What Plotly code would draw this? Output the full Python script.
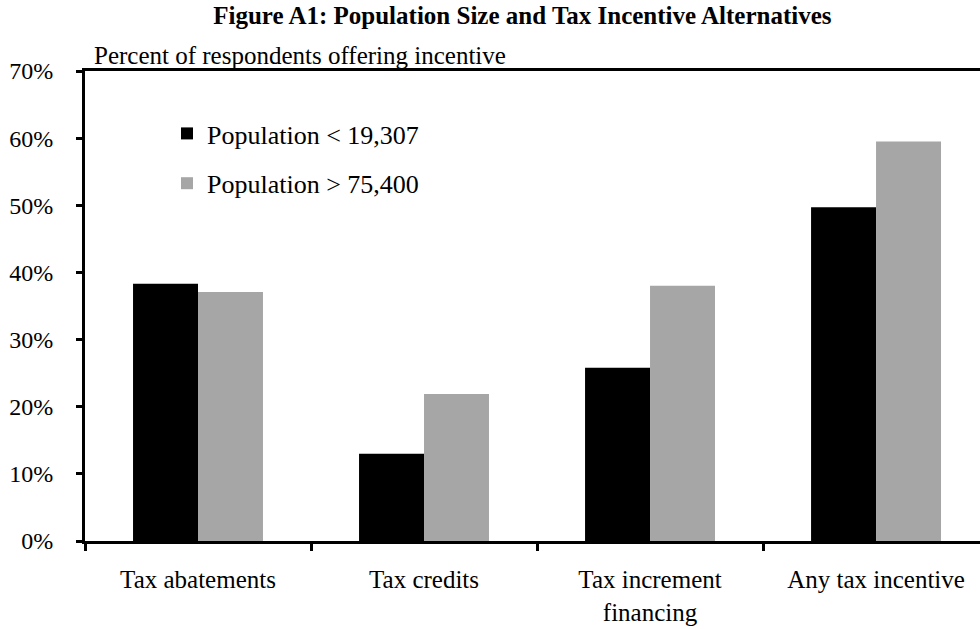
import plotly.graph_objects as go

categories = ["Tax abatements", "Tax credits", "Tax increment<br>financing", "Any tax incentive"]
small_pop = [38.3, 13.0, 25.8, 49.7]
large_pop = [37.1, 21.9, 38.0, 59.5]
series_names = ["Population < 19,307", "Population > 75,400"]
y_ticks = [0, 10, 20, 30, 40, 50, 60, 70]
y_tick_labels = [f"{v}%" for v in y_ticks]

FONT = "Liberation Serif"

fig = go.Figure()
fig.add_trace(go.Bar(x=categories, y=small_pop, name=series_names[0],
                     marker=dict(color="#000000", line=dict(width=0)),
                     legendgroup="a"))
fig.add_trace(go.Bar(x=categories, y=large_pop, name=series_names[1],
                     marker=dict(color="#A6A6A6", line=dict(width=0)),
                     legendgroup="b"))

fig.update_layout(
    width=980, height=629,
    margin=dict(l=85, r=0, t=71, b=88),
    paper_bgcolor="white", plot_bgcolor="white",
    barmode="group", bargap=0.425, bargroupgap=0,
    font=dict(family=FONT, size=24, color="black"),
    title=dict(text="<b>Figure A1: Population Size and Tax Incentive Alternatives</b>",
               x=0.533, xanchor="center", y=0.976, yanchor="middle",
               font=dict(family=FONT, size=25, color="black")),
    legend=dict(x=0.0916, y=0.917, xanchor="left", yanchor="top",
                bgcolor="rgba(0,0,0,0)", font=dict(size=26),
                traceorder="grouped", tracegroupgap=13),
    showlegend=True,
)

fig.update_xaxes(
    type="category", range=[-0.5, 3.46],
    showline=True, linecolor="black", linewidth=3, mirror=True,
    ticks="outside", tickson="boundaries", ticklen=7, tickwidth=2.5, tickcolor="black",
    ticklabelstandoff=14,
    tickfont=dict(size=25), showgrid=False, zeroline=False,
)
fig.update_yaxes(
    range=[0, 70], tickmode="array", tickvals=y_ticks, ticktext=y_tick_labels,
    showline=True, linecolor="black", linewidth=3, mirror=False,
    ticks="outside", ticklen=6, tickwidth=2.5, tickcolor="black",
    ticklabelstandoff=18,
    tickfont=dict(size=24), showgrid=False, zeroline=False,
)

fig.add_annotation(text="Percent of respondents offering incentive",
                   xref="paper", yref="paper", x=0.008, y=1.0,
                   xanchor="left", yanchor="bottom", showarrow=False,
                   font=dict(family=FONT, size=25, color="black"))

fig.write_html("out.html")
